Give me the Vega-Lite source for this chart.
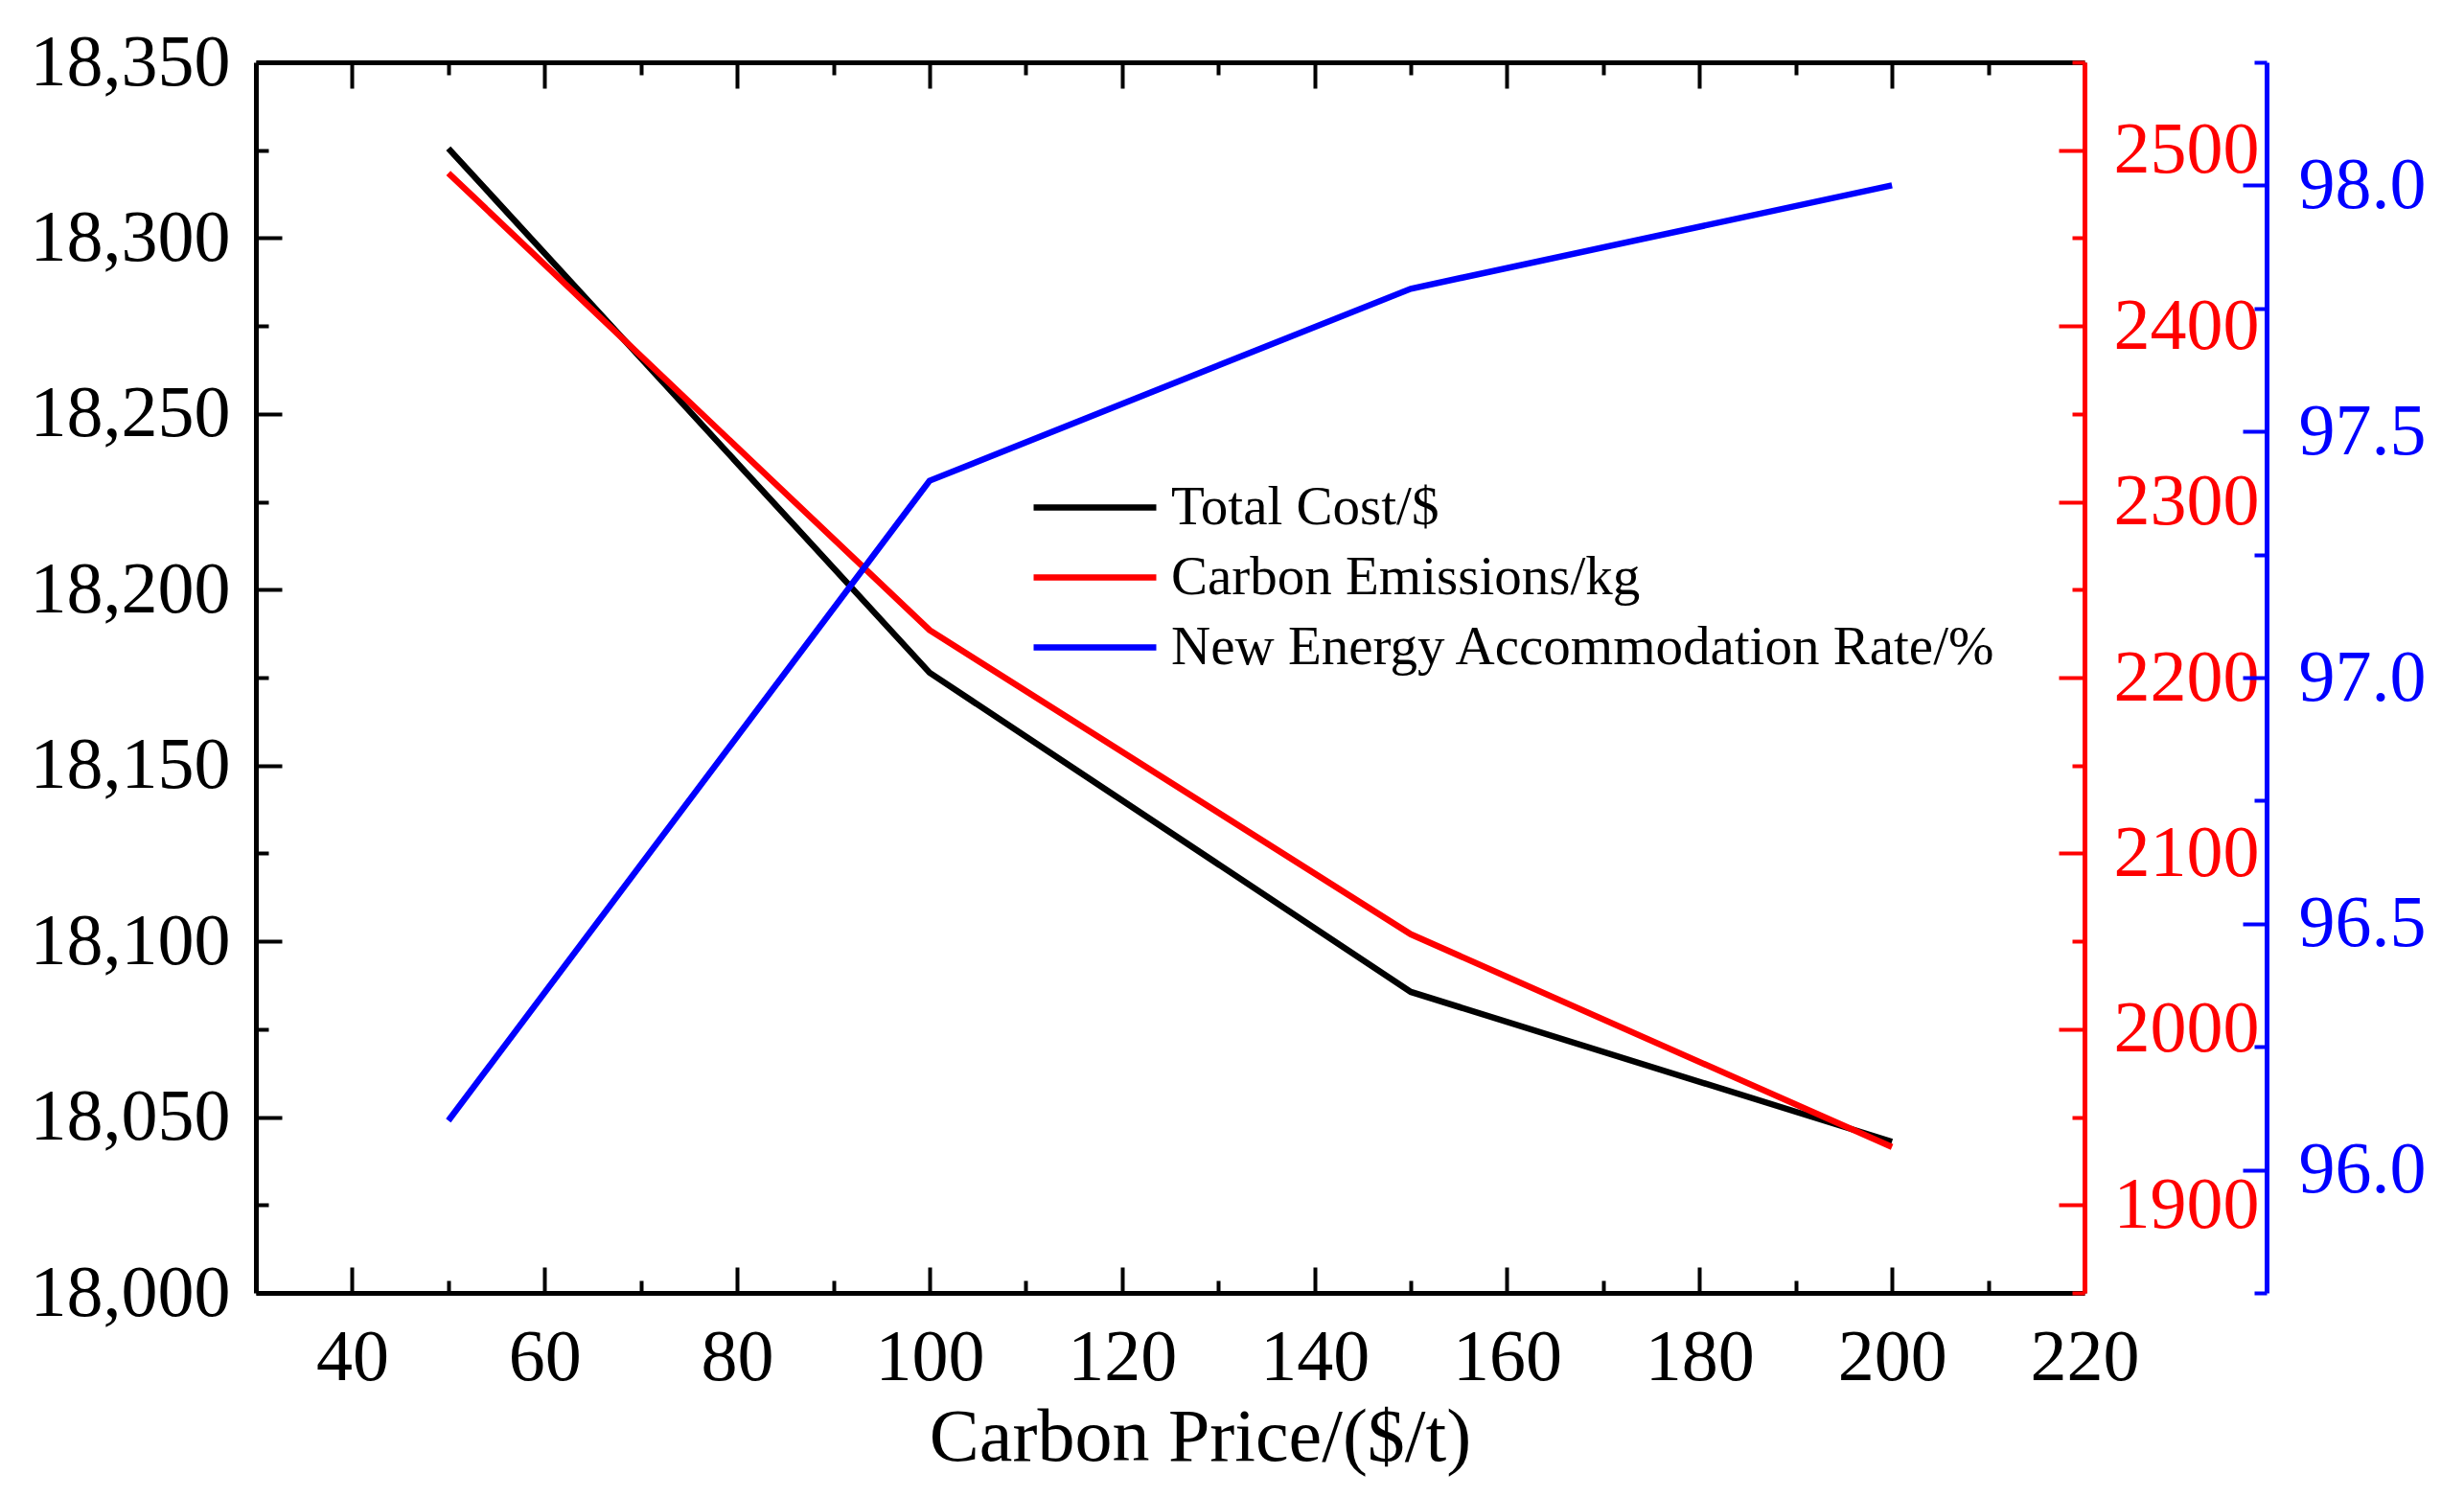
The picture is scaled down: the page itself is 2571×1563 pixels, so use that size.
{
  "$schema": "https://vega.github.io/schema/vega-lite/v6.json",
  "autosize": {"type": "none"},
  "padding": {"left": 267, "top": 65, "right": 396, "bottom": 214},
  "width": 1908,
  "height": 1284,
  "background": "white",
  "data": {
    "values": [
      {"price": 50, "cost": 18325.5, "emission": 2487, "rate": 96.10},
      {"price": 100, "cost": 18176.4, "emission": 2227, "rate": 97.40},
      {"price": 150, "cost": 18085.6, "emission": 2054, "rate": 97.79},
      {"price": 200, "cost": 18043, "emission": 1933, "rate": 98.00}
    ]
  },
  "config": {
    "view": {"stroke": null},
    "axis": {
      "grid": false,
      "labelFont": "Liberation Serif",
      "labelFontSize": 76,
      "labelColor": "black",
      "labelLimit": 600,
      "titleFont": "Liberation Serif",
      "titleFontWeight": "normal",
      "titleColor": "black",
      "titleLimit": 2000,
      "tickWidth": 4,
      "tickColor": "black",
      "domainColor": "black",
      "domainWidth": 5,
      "labelFlush": false,
      "labelOverlap": false
    }
  },
  "resolve": {
    "scale": {"y": "independent", "color": "shared"},
    "axis": {"x": "independent", "y": "independent"}
  },
  "layer": [
    {
      "mark": {"type": "line", "strokeWidth": 6.5},
      "encoding": {
        "x": {
          "field": "price", "type": "quantitative",
          "scale": {"domain": [30, 220], "nice": false, "zero": false},
          "axis": {
            "orient": "bottom",
            "values": [40, 60, 80, 100, 120, 140, 160, 180, 200, 220],
            "tickSize": -27,
            "labelPadding": 57,
            "title": "Carbon Price/($/t)",
            "titleFontSize": 78,
            "titleX": 985,
            "titleY": 174,
            "titleAlign": "center",
            "titleBaseline": "alphabetic"
          }
        },
        "y": {
          "field": "cost", "type": "quantitative",
          "scale": {"domain": [18000, 18350], "nice": false, "zero": false},
          "axis": {
            "orient": "left",
            "values": [18000, 18050, 18100, 18150, 18200, 18250, 18300, 18350],
            "format": ",d",
            "tickSize": -27,
            "labelPadding": 54,
            "title": null
          }
        },
        "color": {
          "datum": "Total Cost/$",
          "scale": {
            "domain": ["Total Cost/$", "Carbon Emissions/kg", "New Energy Accommodation Rate/%"],
            "range": ["#000000", "#FF0000", "#0000FF"]
          },
          "legend": {
            "orient": "none",
            "legendX": 808,
            "legendY": 436,
            "title": null,
            "padding": 0,
            "symbolType": "stroke",
            "symbolSize": 16384,
            "symbolStrokeWidth": 6.5,
            "clipHeight": 57,
            "rowPadding": 15,
            "labelOffset": 12,
            "labelFont": "Liberation Serif",
            "labelFontSize": 57,
            "labelColor": "black",
            "labelLimit": 2000
          }
        }
      }
    },
    {
      "mark": {"type": "line", "strokeWidth": 6.5},
      "encoding": {
        "x": {
          "field": "price", "type": "quantitative",
          "scale": {"domain": [30, 220], "nice": false, "zero": false},
          "axis": {
            "orient": "top",
            "values": [40, 60, 80, 100, 120, 140, 160, 180, 200, 220],
            "tickSize": -27,
            "labels": false,
            "title": null
          }
        },
        "y": {
          "field": "emission", "type": "quantitative",
          "scale": {"domain": [1850, 2550], "nice": false, "zero": false},
          "axis": {
            "orient": "right",
            "values": [1900, 2000, 2100, 2200, 2300, 2400, 2500],
            "format": "d",
            "tickSize": -27,
            "labelPadding": 57,
            "labelColor": "#FF0000",
            "tickColor": "#FF0000",
            "domainColor": "#FF0000",
            "title": null
          }
        },
        "color": {"datum": "Carbon Emissions/kg"}
      }
    },
    {
      "mark": {"type": "line", "strokeWidth": 6.5},
      "encoding": {
        "x": {
          "field": "price", "type": "quantitative",
          "scale": {"domain": [30, 220], "nice": false, "zero": false},
          "axis": {
            "orient": "top",
            "values": [50, 70, 90, 110, 130, 150, 170, 190, 210],
            "tickSize": -13,
            "labels": false,
            "domain": false,
            "title": null
          }
        },
        "y": {
          "field": "rate", "type": "quantitative",
          "scale": {"domain": [95.75, 98.25], "nice": false, "zero": false},
          "axis": {
            "orient": "right",
            "offset": 190,
            "values": [96, 96.5, 97, 97.5, 98],
            "format": ".1f",
            "tickSize": -25,
            "labelPadding": 58,
            "labelColor": "#0000FF",
            "tickColor": "#0000FF",
            "domainColor": "#0000FF",
            "title": null
          }
        },
        "color": {"datum": "New Energy Accommodation Rate/%"}
      }
    },
    {
      "mark": {"type": "line", "strokeOpacity": 0},
      "encoding": {
        "x": {
          "field": "price", "type": "quantitative",
          "scale": {"domain": [30, 220], "nice": false, "zero": false},
          "axis": {
            "orient": "bottom",
            "values": [50, 70, 90, 110, 130, 150, 170, 190, 210],
            "tickSize": -13,
            "labels": false,
            "domain": false,
            "title": null
          }
        },
        "y": {
          "field": "cost", "type": "quantitative",
          "scale": {"domain": [18000, 18350], "nice": false, "zero": false},
          "axis": {
            "orient": "left",
            "values": [18025, 18075, 18125, 18175, 18225, 18275, 18325],
            "tickSize": -13,
            "labels": false,
            "domain": false,
            "title": null
          }
        }
      }
    },
    {
      "mark": {"type": "line", "strokeOpacity": 0},
      "encoding": {
        "x": {
          "field": "price", "type": "quantitative",
          "scale": {"domain": [30, 220], "nice": false, "zero": false},
          "axis": null
        },
        "y": {
          "field": "emission", "type": "quantitative",
          "scale": {"domain": [1850, 2550], "nice": false, "zero": false},
          "axis": {
            "orient": "right",
            "values": [1850, 1950, 2050, 2150, 2250, 2350, 2450, 2550],
            "tickSize": -13,
            "tickColor": "#FF0000",
            "labels": false,
            "domain": false,
            "title": null
          }
        }
      }
    },
    {
      "mark": {"type": "line", "strokeOpacity": 0},
      "encoding": {
        "x": {
          "field": "price", "type": "quantitative",
          "scale": {"domain": [30, 220], "nice": false, "zero": false},
          "axis": null
        },
        "y": {
          "field": "rate", "type": "quantitative",
          "scale": {"domain": [95.75, 98.25], "nice": false, "zero": false},
          "axis": {
            "orient": "right",
            "offset": 190,
            "values": [95.75, 96.25, 96.75, 97.25, 97.75, 98.25],
            "tickSize": -13,
            "tickColor": "#0000FF",
            "labels": false,
            "domain": false,
            "title": null
          }
        }
      }
    }
  ]
}
